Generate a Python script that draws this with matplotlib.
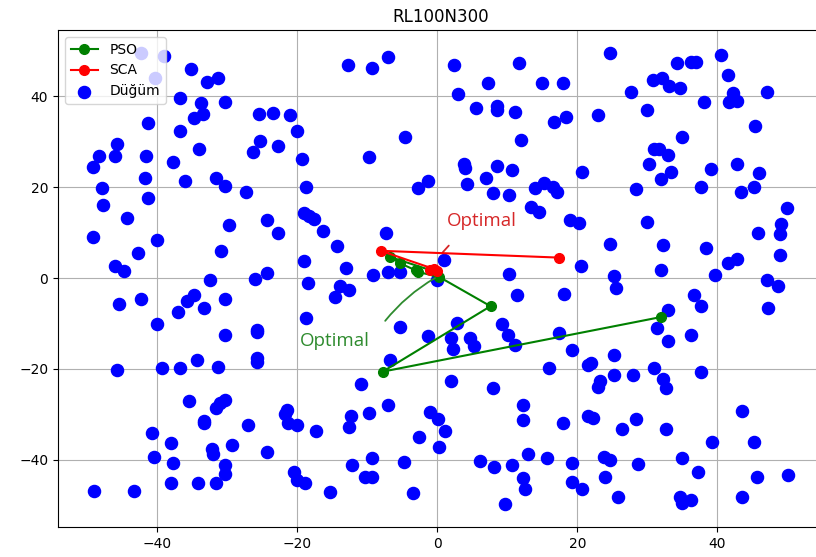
import numpy as np
import matplotlib
matplotlib.use("Agg")
import matplotlib.pyplot as plt

# node coordinates (x, y)
node_x = [
    -39.0, -35.2, -32.9, -31.4, -36.8, -33.8, -30.3, -33.5, -34.8, -41.3, -36.8, -34.0, -45.8, -48.4,
    -46.0, -41.6, -49.2, -37.7, -41.8, -36.1, -31.6, -30.4, -27.4, -47.9, -41.3, -42.4, -40.4, -26.4,
    -12.8, -9.4, -7.1, -25.5, -23.5, -21.1, -20.0, -25.3, -22.7, -19.3, -4.6, -9.8, -18.7, -1.3, -2.7,
    2.4, 11.6, 24.7, 7.2, 15.0, 17.9, 2.9, 5.5, 8.5, 8.5, 11.1, 16.6, 18.4, 22.9, 12.0, 3.8, 4.0, 8.5,
    10.7, 7.0, 4.3, 20.7, 13.9, 15.3, 16.5, 17.1, 7.9, 10.3,
    40.5, 34.2, 36.2, 36.9, 41.5, 30.8, 32.1, 33.1, 34.7, 27.7, 42.3, 47.1, 38.1, 41.6, 42.8, 29.9,
    45.4, 35.0, 31.0, 31.6, 33.0, 30.3, 33.4, 31.9, 39.1, 42.8, 46.0, 28.4, 37.6, 43.4, 45.3,
    50.0, 29.9, 49.1, 45.8, 48.9, 32.3, 38.4, 48.9, 41.5, 42.8, 31.9, 39.6, 47.1, 48.6, 36.6, 37.6,
    47.3, 33.0, 31.4, 36.2, 33.0,
    27.9, 31.0, 37.6, 32.3, 32.7, 43.5, 28.4, 32.7, 39.2, 45.2, 35.0, 28.6, 37.3, 45.7, 50.1, 34.7,
    35.0, 36.3, 43.5,
    16.0, 21.5, 22.0, 25.2, 25.3, 2.0, 7.9, 23.2, 22.9, 12.2, 12.2, 17.9, 21.5, 22.3, 26.4, 0.1, 1.1,
    0.3, 6.1, 8.1, 10.6, 12.9, 15.6, 19.2, 23.8, 24.6, 12.2, 12.5, 19.2, 20.7, 23.9, 25.8, 9.6,
    -25.8, -6.8, -10.9, -21.5, -21.8, -21.3, -20.0, -17.3, -27.0, -12.4, -12.6, -9.8, -7.1, -1.1,
    -2.6, -24.4, -12.2, -9.3, -4.7, -10.3, -9.3, -20.5, -20.0, -18.9, -15.4, -3.5,
    -45.8, -39.4, -36.8, -34.3, -31.3, -35.5, -31.6, -31.0, -30.4, -33.3, -33.3, -40.8, -38.1, -32.2,
    -32.0, -29.3, -40.5, -37.7, -30.4, -30.4, -38.1, -34.2, -31.6, -49.0, -43.3,
    -47.8, -44.4, -29.7, -49.2, -40.0, -42.7, -30.9, -46.1, -44.7, -32.5, -26.1, -45.5, -42.4, -34.8,
    -35.7, -33.3, -30.4, -37.1, -40.0, -30.4,
    -24.4, -22.8, -19.1, -18.3, -17.6, -16.3, -14.3, -7.4, -19.0, -13.0, -24.4, -9.2, -7.0, -5.4,
    -18.5, -13.9, -12.6, -14.6, -18.7, -25.8, -25.7, -5.4, -1.3, -25.8, 0.0,
    13.4, 14.5, 19.0, 20.2, 24.7, 20.5, 25.3, 25.5, 1.0, 10.3, 11.4, 18.1, 2.8, 9.2, 10.1, 2.0, 4.6,
    2.2, 5.3, 11.1, 17.4, 19.2,
]
node_y = [
    48.9, 46.0, 43.2, 44.0, 39.6, 38.5, 38.8, 36.1, 35.2, 34.2, 32.4, 28.4, 29.5, 26.9,
    26.9, 26.9, 24.4, 25.5, 22.1, 21.4, 22.1, 20.3, 19.0, 19.8, 17.6, 49.5, 44.1, 27.8,
    46.9, 46.2, 48.6, 36.2, 36.4, 35.9, 32.4, 30.2, 29.1, 26.1, 31.1, 26.7, 20.0, 21.4, 19.8,
    46.9, 47.3, 49.6, 42.9, 42.9, 42.9, 40.5, 37.5, 37.9, 37.1, 36.5, 34.4, 35.5, 35.9, 30.4, 25.2, 24.3, 24.7,
    23.8, 22.0, 20.8, 23.4, 19.9, 20.9, 20.1, 19.0, 18.8, 18.3,
    49.0, 47.3, 47.6, 47.6, 44.6, 43.6, 44.1, 42.3, 41.9, 40.9, 40.7, 41.0, 38.8, 38.8, 39.0, 36.9,
    33.5, 31.1, 28.4, 28.4, 27.1, 25.2, 23.4, 21.7, 24.0, 25.1, 23.1, 19.5, 20.0, 19.0, 20.0,
    15.4, 12.3, 12.0, 10.0, 9.6, 7.3, 6.6, 5.0, 3.3, 4.3, 1.8, 0.6, -0.4, -1.8, -3.7, -6.2,
    -6.5, -7.1, -11.0, -12.6, -13.9,
    -21.3, -19.9, -20.6, -22.2, -24.3, -29.2, -31.1, -33.3, -36.1, -36.1, -39.6, -41.0, -42.8, -43.7, -43.4, -48.3,
    -49.6, -48.8, -48.1,
    -19.9, -19.2, -18.7, -21.4, -17.0, -22.6, -24.3, -22.6, -23.9, -28.0, -31.3, -31.9, -30.3, -30.7, -33.3, -31.1, -33.6,
    -37.3, -40.2, -41.7, -41.1, -38.8, -39.6, -40.7, -39.4, -40.0, -44.1, -46.5, -44.8, -46.5, -43.8, -48.1, -49.8,
    -18.4, -18.1, -23.3, -29.0, -30.0, -32.0, -32.4, -33.6, -32.3, -30.3, -32.7, -29.7, -28.0, -29.4,
    -34.9, -38.4, -41.1, -39.6, -40.4, -43.7, -43.7, -42.7, -44.4, -45.2, -47.1, -47.4,
    -20.3, -19.9, -19.9, -18.0, -19.5, -27.0, -28.5, -27.5, -26.9, -31.4, -32.0, -34.0, -36.4, -37.7,
    -38.8, -36.8, -39.4, -40.8, -41.1, -43.2, -45.2, -45.2, -45.2, -46.8, -46.8,
    16.0, 13.3, 11.6, 9.0, 8.3, 5.6, 5.9, 2.6, 1.5, -0.5, -0.2, -5.8, -4.7, -3.8,
    -5.1, -6.5, -4.7, -7.5, -10.2, -12.6,
    12.7, 9.9, 14.3, 13.6, 12.9, 10.3, 7.0, 9.9, 3.7, 2.3, 1.1, 0.6, 1.3, 1.3,
    -1.1, -1.8, -2.7, -4.2, -8.8, -11.4, -11.9, -10.8, -12.8, -17.7, -0.4,
    15.6, 14.5, 12.7, 12.2, 7.6, 2.6, 0.4, -2.2, 3.9, 0.9, -3.8, -3.5, -9.8, -10.2, -12.5, -13.1, -13.1,
    -15.7, -15.0, -14.8, -12.1, -15.9,
]

# best-position history of each optimiser
pso_x = [31.9, -7.8, 7.6, 0.2, -2.7, -3.1, -5.4, -6.7, -0.5]
pso_y = [-8.6, -20.6, -6.2, 0.3, 1.3, 1.7, 3.3, 4.6, 1.5]
sca_x = [17.4, -8.1, -0.5, 0.0, -1.0]
sca_y = [4.5, 6.0, 2.0, 1.5, 1.8]

fig = plt.figure(figsize=(8.16, 5.57), dpi=100)
ax = fig.add_axes([58 / 816, 30 / 557, 765 / 816, 497 / 557])

nodes = ax.scatter(node_x, node_y, s=76, color="b", label="Düğüm", zorder=2)
pso, = ax.plot(pso_x, pso_y, "-o", color="g", lw=1.5, ms=7, label="PSO", zorder=3)
sca, = ax.plot(sca_x, sca_y, "-o", color="r", lw=1.5, ms=7, label="SCA", zorder=4)

ax.annotate("", xy=(0.0, 0.3), xytext=(-7.7, -9.9),
            arrowprops=dict(arrowstyle="-", color="#2e8b2e", lw=1.3,
                            connectionstyle="arc3,rad=-0.1"))
ax.text(-19.6, -13.9, "Optimal", color="#2e8b2e", fontsize=13.5,
        family="Open Sans", va="center", ha="left")
ax.annotate("", xy=(0.5, 5.2), xytext=(1.9, 7.6),
            arrowprops=dict(arrowstyle="-", color="#d62728", lw=1.3))
ax.text(1.4, 12.6, "Optimal", color="#d62728", fontsize=13.5,
        family="Open Sans", va="center", ha="left")

ax.set_xlim(-54.2, 55.1)
ax.set_ylim(-54.8, 54.6)
ax.set_xticks([-40, -20, 0, 20, 40])
ax.set_yticks([-40, -20, 0, 20, 40])
ax.tick_params(labelsize=10)
ax.grid(True, color="#b0b0b0", lw=0.8)
ax.set_axisbelow(True)
ax.set_title("RL100N300", fontsize=12)
ax.legend(handles=[pso, sca, nodes], loc="upper left", fontsize=10)

fig.savefig("out.png", dpi=100)
